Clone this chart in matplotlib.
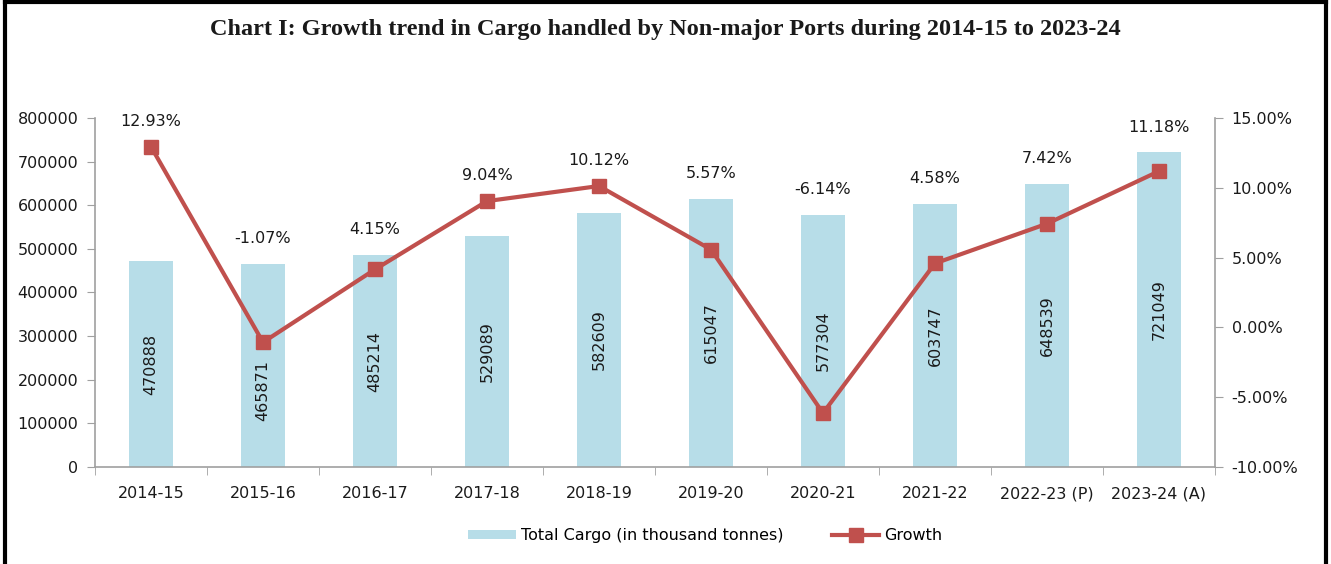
import matplotlib.pyplot as plt
from matplotlib.lines import Line2D
from matplotlib.patches import Patch
from matplotlib.ticker import FuncFormatter, MultipleLocator, FixedLocator

years = ['2014-15', '2015-16', '2016-17', '2017-18', '2018-19',
         '2019-20', '2020-21', '2021-22', '2022-23 (P)', '2023-24 (A)']
cargo = [470888, 465871, 485214, 529089, 582609, 615047, 577304, 603747, 648539, 721049]
growth = [12.93, -1.07, 4.15, 9.04, 10.12, 5.57, -6.14, 4.58, 7.42, 11.18]

bar_col = '#B7DDE8'
line_col = '#C0504D'
grey = '#A0A0A0'
txt = '#1a1a1a'
fs = 11.5

fig = plt.figure(figsize=(13.31, 5.64), dpi=100)
ax = fig.add_axes([0.0714, 0.172, 0.8414, 0.619])
ax2 = ax.twinx()

x = list(range(len(years)))
ax.bar(x, cargo, width=0.4, color=bar_col, zorder=1)
ax.set_ylim(0, 800000)
ax.set_xlim(-0.5, len(years) - 0.5)
ax.yaxis.set_major_locator(MultipleLocator(100000))

ax2.plot(x, growth, color=line_col, lw=3, marker='s', ms=10, zorder=3)
ax2.set_ylim(-10, 15)
ax2.yaxis.set_major_locator(MultipleLocator(5))
ax2.yaxis.set_major_formatter(FuncFormatter(lambda v, p: '%.2f%%' % v))

# bar value labels (rotated, centred in bar; moved down where the marker sits on it)
for i, v in enumerate(cargo):
    gpos = (growth[i] + 10) / 25 * 800000
    y = v / 2
    if abs(gpos - y) < 60000:
        y = y - 57000
    ax2.text(i, y, str(v), rotation=90, ha='center', va='center',
             fontsize=fs, color=txt, zorder=4, transform=ax.transData)

# growth labels above the higher of bar or marker
for i, g in enumerate(growth):
    gpos = (g + 10) / 25 * 800000
    top = max(cargo[i], gpos) + 58000
    ax2.text(i, top, '%.2f%%' % g, ha='center', va='center',
             fontsize=fs, color=txt, zorder=4, transform=ax.transData)

for a in (ax, ax2):
    a.spines['top'].set_visible(False)
    for s in ('left', 'right', 'bottom'):
        a.spines[s].set_color(grey)
        a.spines[s].set_linewidth(1.2)
    a.tick_params(axis='y', colors=grey, labelcolor=txt, labelsize=fs, length=6, pad=6)
ax.spines['right'].set_visible(False)
ax2.spines['left'].set_visible(False)
ax2.spines['bottom'].set_visible(False)

ax.set_xticks(x)
ax.set_xticklabels(years, fontsize=fs, color=txt)
ax.tick_params(axis='x', which='major', length=0, pad=14)
ax.xaxis.set_minor_locator(FixedLocator([i + 0.5 for i in range(-1, len(years))]))
ax.tick_params(axis='x', which='minor', length=6, color=grey)

fig.text(0.5, 0.947, 'Chart I: Growth trend in Cargo handled by Non-major Ports during 2014-15 to 2023-24',
         ha='center', va='center', fontsize=17.5, fontweight='bold',
         family='Liberation Serif', color=txt)

handles = [Patch(facecolor=bar_col, edgecolor='none'),
           Line2D([], [], color=line_col, lw=3, marker='s', ms=10)]
fig.legend(handles, ['Total Cargo (in thousand tonnes)', 'Growth'],
           loc='center', bbox_to_anchor=(0.53, 0.05), ncol=2, frameon=False,
           fontsize=fs, handlelength=3, columnspacing=3, handletextpad=0.3,
           handleheight=0.5)

# outer frame (left, top, right)
fig.add_artist(Line2D([0.004, 0.004], [0, 0.996], color='black', lw=3, transform=fig.transFigure))
fig.add_artist(Line2D([0.996, 0.996], [0, 0.996], color='black', lw=3, transform=fig.transFigure))
fig.add_artist(Line2D([0.004, 0.996], [0.996, 0.996], color='black', lw=3, transform=fig.transFigure))

fig.savefig('out.png', dpi=100)
